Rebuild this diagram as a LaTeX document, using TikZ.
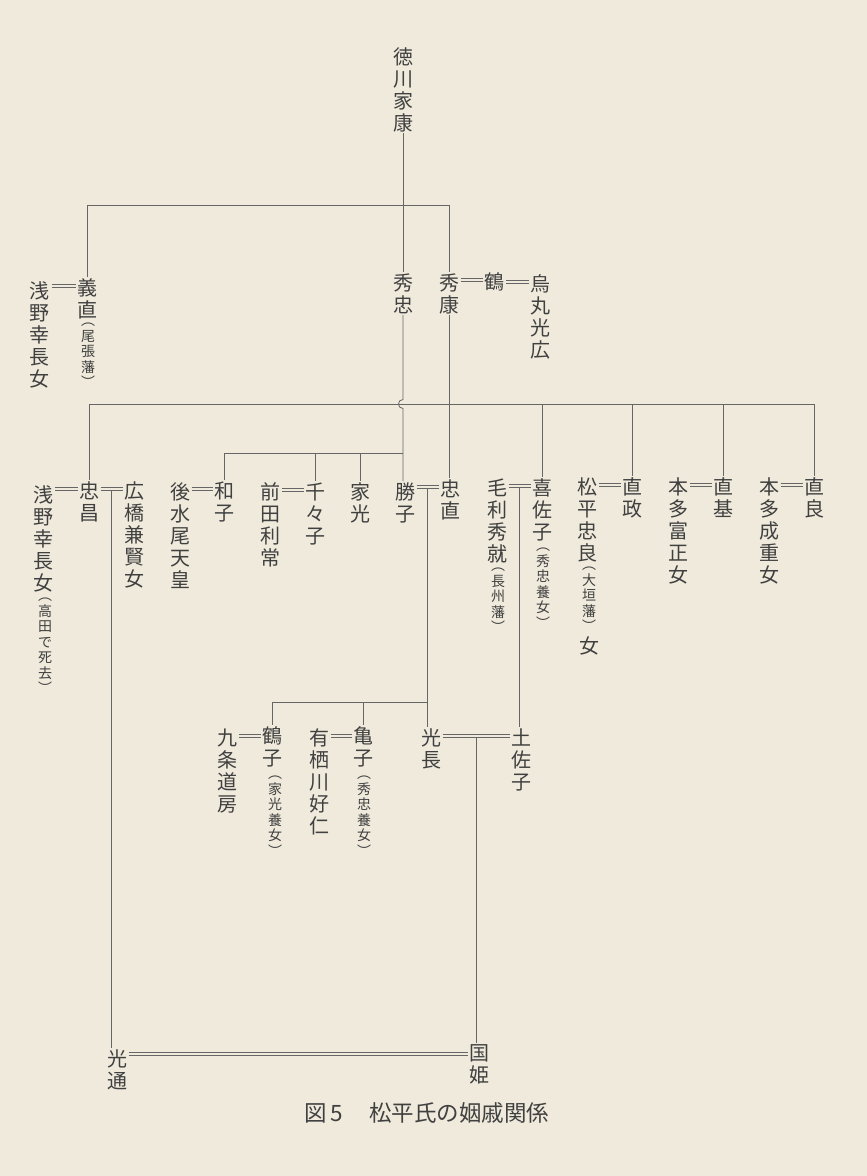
\documentclass[tikz,border=0pt]{standalone}
\usepackage{fontspec}
\newfontfamily\cjk{Noto Sans CJK JP}
\usetikzlibrary{calc}
\definecolor{bg}{HTML}{EFEADC}
\definecolor{txt}{HTML}{404040}
\definecolor{lc}{HTML}{666666}
\tikzset{
  nm/.style={font=\cjk\fontsize{20}{22}\selectfont, text=txt, inner sep=0pt, outer sep=1.5pt, align=center, anchor=north},
  an/.style={font=\cjk\fontsize{14}{15.5}\selectfont, text=txt, inner sep=0pt, outer sep=0pt, align=center, anchor=north},
  ln/.style={draw=lc, line width=0.8pt},
  mr/.style={draw=lc, line width=0.75pt, double=bg, double distance=1.7pt},
}
% marriage point between left node #2 and right node #3, named #4
\newcommand\wedpt[4][9]{\coordinate (#4) at ($(#3.north west)!0.5!(#3.north west -| #2.east)+(0,#1)$);}
\newcommand\wedline[3]{\draw[mr] (#1.east |- #3) -- (#2.west |- #3);}
\begin{document}
\begin{tikzpicture}[x=1pt,y=-1pt]
\path[fill=bg] (0,0) rectangle (867,1176);
\useasboundingbox (0,0) rectangle (867,1176);

% ---- row 0/1
\node[nm] (ieyasu) at (403,46) {徳\\川\\家\\康};
\node[nm] (asano1) at (40,280) {浅\\野\\幸\\長\\女};
\node[nm] (yoshinao) at (87,277) {義\\直};
\node[an] (owari) at (88,323) {︵\\尾\\張\\藩\\︶};
\node[nm] (hidetada) at (403,272) {秀\\忠};
\node[nm] (hideyasu) at (449,272) {秀\\康};
\node[nm] (tsuru) at (494,271) {鶴};
\node[nm] (karasu) at (540,273) {烏\\丸\\光\\広};

% ---- row 2
\node[nm] (asano2) at (43,484) {浅\\野\\幸\\長\\女};
\node[an] (takada) at (45,598) {︵\\高\\田\\で\\死\\去\\︶};
\node[nm] (tadamasa) at (89,480) {忠\\昌};
\node[nm] (hirohashi) at (134,480) {広\\橋\\兼\\賢\\女};
\node[nm] (gomizuno) at (180,481) {後\\水\\尾\\天\\皇};
\node[nm] (kazuko) at (224,480) {和\\子};
\node[nm] (maeda) at (270,481) {前\\田\\利\\常};
\node[nm] (chichiko) at (315,481) {千\\々\\子};
\node[nm] (iemitsu) at (360,481) {家\\光};
\node[nm] (katsuko) at (405,481) {勝\\子};
\node[nm] (tadanao) at (450,478) {忠\\直};
\node[nm] (mori) at (497,477) {毛\\利\\秀\\就};
\node[an] (choshu) at (498,568) {︵\\長\\州\\藩\\︶};
\node[nm] (kisako) at (542,477) {喜\\佐\\子};
\node[an] (yojo1) at (543,548) {︵\\秀\\忠\\養\\女\\︶};
\node[nm] (tadayoshi) at (587,476) {松\\平\\忠\\良};
\node[an] (ogaki) at (589,567) {︵\\大\\垣\\藩\\︶};
\node[nm] (onna) at (589,635) {女};
\node[nm] (naomasa) at (632,476) {直\\政};
\node[nm] (honda1) at (678,476) {本\\多\\富\\正\\女};
\node[nm] (naomoto) at (723,476) {直\\基};
\node[nm] (honda2) at (769,476) {本\\多\\成\\重\\女};
\node[nm] (naoyoshi) at (814,476) {直\\良};

% ---- row 3
\node[nm] (kujo) at (227,727) {九\\条\\道\\房};
\node[nm] (tsuruko) at (272,725) {鶴\\子};
\node[an] (yojo2) at (275,776) {︵\\家\\光\\養\\女\\︶};
\node[nm] (arisu) at (319,727) {有\\栖\\川\\好\\仁};
\node[nm] (kameko) at (363,725) {亀\\子};
\node[an] (yojo3) at (364,776) {︵\\秀\\忠\\養\\女\\︶};
\node[nm] (mitsunaga) at (431,727) {光\\長};
\node[nm] (tosako) at (521,727) {土\\佐\\子};

% ---- row 4
\node[nm] (mitsumichi) at (117,1048) {光\\通};
\node[nm] (kunihime) at (479,1043) {国\\姫};

\node[font=\cjk\fontsize{22.5}{24}\selectfont, text=txt, anchor=west, inner sep=0pt] (cap) at (304,1113) {図\hspace{4pt}5\hspace{26pt}松平氏の姻戚関係};

% ---- bar levels
\coordinate (bar0) at (0,205);
\coordinate (bar1) at (0,404);
\coordinate (bar2) at (0,453);
\coordinate (bar3) at (0,702);

% ---- marriage points
\wedpt{asano1}{yoshinao}{w1}
\wedpt{hideyasu}{tsuru}{w2}
\wedpt{tsuru}{karasu}{w3}
\wedpt{asano2}{tadamasa}{w4}
\wedpt{tadamasa}{hirohashi}{w5}
\wedpt{gomizuno}{kazuko}{w6}
\wedpt{maeda}{chichiko}{w7}
\wedpt{katsuko}{tadanao}{w8}
\wedpt{mori}{kisako}{w9}
\wedpt{tadayoshi}{naomasa}{w10}
\wedpt{honda1}{naomoto}{w11}
\wedpt{honda2}{naoyoshi}{w12}
\wedpt[11]{kujo}{tsuruko}{w13}
\wedpt[11]{arisu}{kameko}{w14}
\wedpt{mitsunaga}{tosako}{w15}
\wedpt[11]{mitsumichi}{kunihime}{w16}

% ---- descent lines
\draw[ln] (ieyasu.south) -- (hidetada.north);
\draw[ln] (yoshinao.north) -- (yoshinao.north |- bar0) -- (hideyasu.north |- bar0) -- (hideyasu.north);
\draw[ln] (hideyasu.south) -- (hideyasu.south |- tadanao.north);
\coordinate (jp) at (hidetada.south |- bar1);
\draw[ln] (hidetada.south) -- ([yshift=4.5pt]jp) .. controls +(-6pt,0pt) and +(-6pt,0pt) .. ([yshift=-4.5pt]jp) -- (hidetada.south |- katsuko.north);
\draw[ln] (tadamasa.north) -- (tadamasa.north |- bar1) -- (naoyoshi.north |- bar1) -- (naoyoshi.north);
\foreach \n in {kisako,naomasa,naomoto} \draw[ln] (\n.north |- bar1) -- (\n.north);
\draw[ln] (kazuko.north) -- (kazuko.north |- bar2) -- (hidetada.south |- bar2);
\foreach \n in {chichiko,iemitsu} \draw[ln] (\n.north |- bar2) -- (\n.north);

\draw[ln] (w5) -- (w5 |- mitsumichi.north);
\draw[ln] (w8) -- (w8 |- bar3) -- (tsuruko.north |- bar3) -- (tsuruko.north);
\draw[ln] (w8 |- bar3) -- (w8 |- mitsunaga.north);
\draw[ln] (kameko.north |- bar3) -- (kameko.north);
\draw[ln] (w9) -- (w9 |- tosako.north);
\draw[ln] (w15) -- (w15 |- kunihime.north);

% ---- marriage double lines
\wedline{asano1}{yoshinao}{w1}
\wedline{hideyasu}{tsuru}{w2}
\wedline{tsuru}{karasu}{w3}
\wedline{asano2}{tadamasa}{w4}
\wedline{tadamasa}{hirohashi}{w5}
\wedline{gomizuno}{kazuko}{w6}
\wedline{maeda}{chichiko}{w7}
\wedline{katsuko}{tadanao}{w8}
\wedline{mori}{kisako}{w9}
\wedline{tadayoshi}{naomasa}{w10}
\wedline{honda1}{naomoto}{w11}
\wedline{honda2}{naoyoshi}{w12}
\wedline{kujo}{tsuruko}{w13}
\wedline{arisu}{kameko}{w14}
\wedline{mitsunaga}{tosako}{w15}
\wedline{mitsumichi}{kunihime}{w16}
\end{tikzpicture}
\end{document}
